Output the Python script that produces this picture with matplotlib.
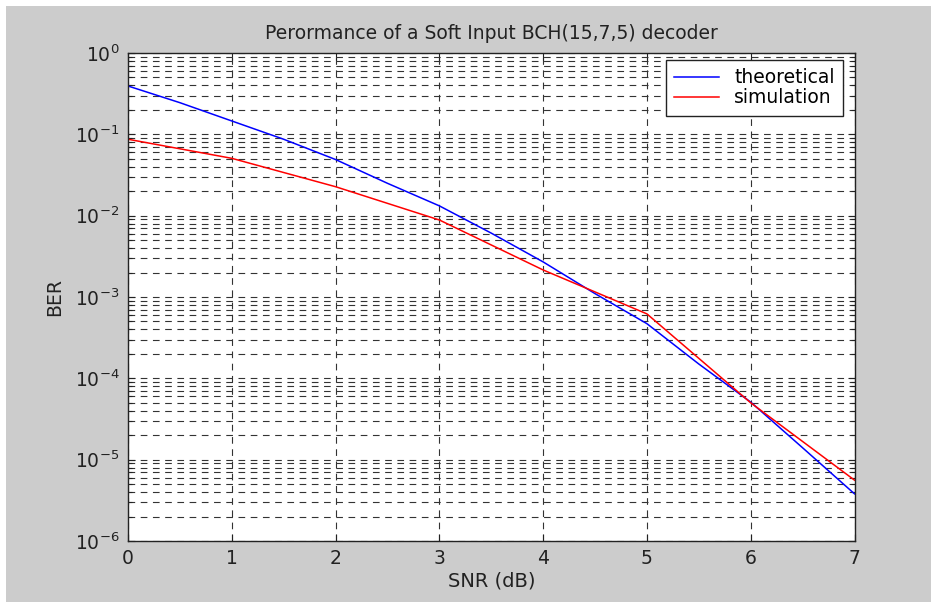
import matplotlib
matplotlib.use("Agg")
import matplotlib.pyplot as plt
from matplotlib.patches import Rectangle
import numpy as np

# values
snr_theory = [0, 0.5, 1, 1.5, 2, 2.5, 3, 3.5, 4, 4.5, 5, 5.5, 6, 6.5, 7]
ber_theory = [0.393, 0.245, 0.146, 0.087, 0.049, 0.025, 0.0132, 0.0061,
              0.0027, 1.1e-3, 4.7e-4, 1.5e-4, 5.1e-5, 1.4e-5, 3.8e-6]

snr_sim = [0, 1, 2, 3, 4, 5, 6, 7]
ber_sim = [0.087, 0.0507, 0.0227, 0.00885, 0.00215, 6.2e-4, 5.0e-5, 5.6e-6]

x_ticks = [0, 1, 2, 3, 4, 5, 6, 7]

W, H = 931, 602
FS = 13.5
plt.rcParams["font.family"] = ["DejaVu Sans"]

fig = plt.figure(figsize=(W / 100, H / 100), dpi=100, facecolor="white")
fig.patches.append(Rectangle((6 / W, 0), 1, (H - 6) / H, transform=fig.transFigure,
                             facecolor="#cccccc", edgecolor="none", zorder=-10))

ax = fig.add_axes([128 / W, 61 / H, 726.5 / W, 488 / H])
ax.set_facecolor("white")

ax.semilogy(snr_theory, ber_theory, color="#0000ff", lw=1.1, label="theoretical")
ax.semilogy(snr_sim, ber_sim, color="#ff0000", lw=1.1, label="simulation")

ax.set_xlim(0, 7)
ax.set_ylim(1e-6, 1)
ax.set_xticks(x_ticks)

grid_style = dict(color="#333333", linewidth=0.8, linestyle=(0, (6, 5)))
ax.grid(True, which="major", axis="both", **grid_style)
ax.grid(True, which="minor", axis="y", **grid_style)

ax.tick_params(which="both", direction="in", top=True, right=True,
               labelsize=FS, colors="#222222", width=0.8)
ax.tick_params(which="major", length=5, pad=6)
ax.tick_params(which="minor", length=3)
for s in ax.spines.values():
    s.set_color("#222222")
    s.set_linewidth(1.0)

ax.set_title("Perormance of a Soft Input BCH(15,7,5) decoder", fontsize=FS,
             color="#222222", pad=10)
ax.set_xlabel("SNR (dB)", fontsize=FS + 0.5, color="#222222", labelpad=2)
ax.set_ylabel("BER", fontsize=FS, color="#222222", labelpad=8)

leg = ax.legend(loc="upper right", bbox_to_anchor=(843 / W, 1 - 60 / H),
                bbox_transform=fig.transFigure, borderaxespad=0,
                fontsize=FS, fancybox=False, framealpha=1, edgecolor="#222222",
                handlelength=2.4, handletextpad=0.8, borderpad=0.45,
                labelspacing=0.05)
leg.get_frame().set_linewidth(1.0)

fig.savefig("out.png", dpi=100, facecolor=fig.get_facecolor())
